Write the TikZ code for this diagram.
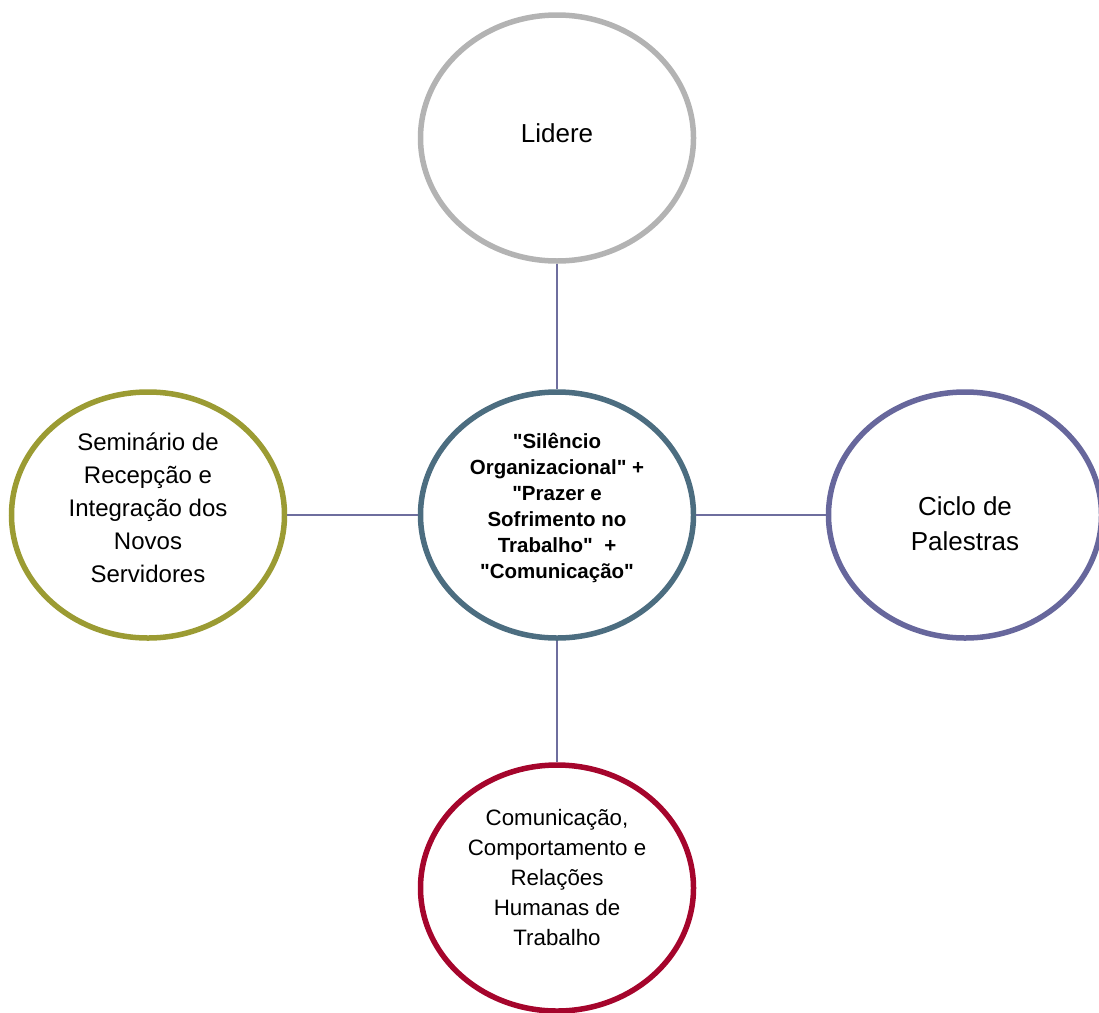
\documentclass[tikz,border=0pt]{standalone}
\usepackage{fontspec}
\setmainfont{Liberation Sans}
\usetikzlibrary{shapes.geometric}

\definecolor{lidgray}{HTML}{B3B3B3}
\definecolor{hubblue}{HTML}{4C6D80}
\definecolor{semolive}{HTML}{9B9B33}
\definecolor{ciclopurple}{HTML}{67679C}
\definecolor{comred}{HTML}{A5052C}
\definecolor{linkcol}{HTML}{6E6E9E}

\newcommand{\qd}{\textquotedbl}

\begin{document}
\begin{tikzpicture}[x=1pt,y=-1pt,
		bubble/.style={ellipse, draw, line width=5.5pt, fill=white, minimum width=273pt, minimum height=246pt, inner sep=0pt},
		bubbletext/.style={align=center, inner sep=0pt},
		link/.style={draw=linkcol, line width=1.5pt}]
		% Coordinates
		\coordinate (C_top) at (557,138);
		\coordinate (C_hub) at (557,515);
		\coordinate (C_left) at (148,515);
		\coordinate (C_right) at (965,515);
		\coordinate (C_bottom) at (557,888);

		\clip (0,0) rectangle (1099,1012);

		% Draw circles
		\node[bubble, draw=lidgray] (lidere) at (C_top) {};
		\node[bubble, draw=hubblue] (hub) at (C_hub) {};
		\node[bubble, draw=semolive] (seminario) at (C_left) {};
		\node[bubble, draw=ciclopurple] (ciclo) at (C_right) {};
		\node[bubble, draw=comred] (comunic) at (C_bottom) {};

		% Texts
		\node[bubbletext, font=\fontsize{26}{34}\selectfont] (lidere-text) at ([yshift=5pt]lidere) {Lidere};
		\node[bubbletext, font=\fontsize{20.5}{26}\selectfont\bfseries] (hub-text) at ([yshift=7pt]hub)
			{\qd Silêncio\\Organizacional\qd{} +\\\qd Prazer e\\Sofrimento no\\Trabalho\qd~ +\\\qd Comunicação\qd};
		\node[bubbletext, font=\fontsize{24}{33}\selectfont] (seminario-text) at ([yshift=7pt]seminario)
			{Seminário de\\Recepção e\\Integração dos\\Novos\\Servidores};
		\node[bubbletext, font=\fontsize{26}{35}\selectfont] (ciclo-text) at ([yshift=-9pt]ciclo)
			{Ciclo de\\Palestras};
		\node[bubbletext, font=\fontsize{22.3}{30}\selectfont] (comunic-text) at ([yshift=10pt]comunic)
			{Comunicação,\\Comportamento e\\Relações\\Humanas de\\Trabalho};

		% Draw connectors
		\draw[link] (lidere) -- (hub);
		\draw[link] (seminario) -- (hub);
		\draw[link] (hub) -- (ciclo);
		\draw[link] (hub) -- (comunic);
\end{tikzpicture}
\end{document}
